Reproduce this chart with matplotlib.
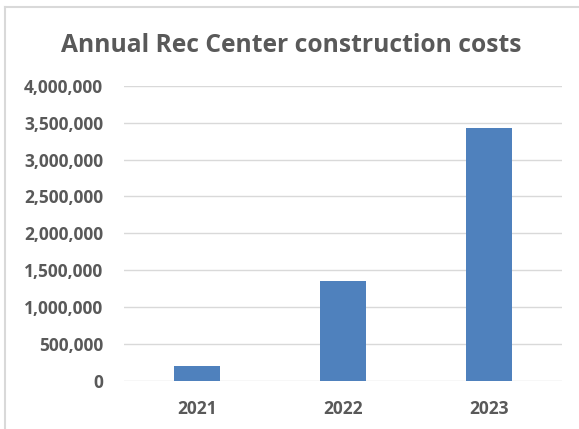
import matplotlib
matplotlib.use("Agg")
import matplotlib.pyplot as plt
from matplotlib.lines import Line2D
from matplotlib.ticker import FuncFormatter

# === Данные ===
years = ["2021", "2022", "2023"]
costs = [203000, 1350000, 3430000]
y_ticks = [0, 500000, 1000000, 1500000, 2000000, 2500000, 3000000, 3500000, 4000000]

W, H = 579, 429
fig = plt.figure(figsize=(W / 100, H / 100), dpi=100)
fig.patch.set_facecolor("white")

# === Оси ===
ax = fig.add_axes([124 / W, 1 - 380.5 / H, 438 / W, (380.5 - 86) / H])
ax.bar(range(len(years)), costs, width=0.315, color="#4F81BD", zorder=3)
ax.set_xlim(-0.5, len(years) - 0.5)
ax.set_ylim(0, 4000000)
ax.set_yticks(y_ticks)
ax.yaxis.set_major_formatter(FuncFormatter(lambda v, p: f"{int(v):,}"))
ax.set_xticks(range(len(years)))
ax.set_xticklabels(years)
ax.grid(axis="y", color="#D9D9D9", linewidth=1, zorder=0)
for s in ax.spines.values():
    s.set_visible(False)
ax.tick_params(length=0, colors="#595959", labelsize=12.5, pad=15)
ax.tick_params(axis="x", pad=14)
for lbl in ax.get_xticklabels() + ax.get_yticklabels():
    lbl.set_fontfamily("Open Sans")
    lbl.set_fontweight("bold")
    lbl.set_color("#595959")

# === Заголовок ===
fig.text(291 / W, 1 - 45 / H, "Annual Rec Center construction costs",
         ha="center", va="center", fontsize=17.7, color="#595959",
         fontfamily="Open Sans", fontweight="bold")

# === Рамка ===
fig.add_artist(Line2D([5 / W, 5 / W], [0, 1 - 7 / H], color="#D9D9D9", linewidth=1.5))
fig.add_artist(Line2D([5 / W, 1], [1 - 7 / H, 1 - 7 / H], color="#D9D9D9", linewidth=1.5))

fig.savefig("out.png", dpi=100)
